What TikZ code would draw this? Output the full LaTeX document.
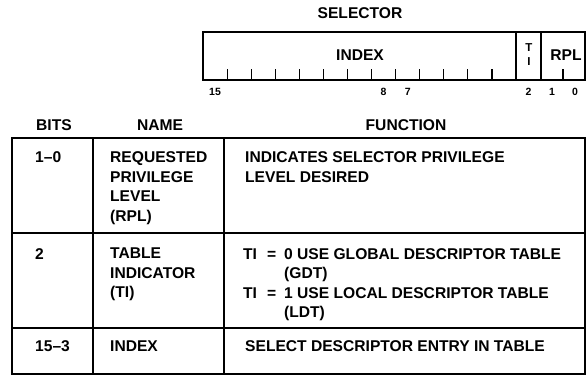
\documentclass[tikz,border=0pt]{standalone}
\usepackage{fontspec}
\setmainfont{Liberation Sans}
\begin{document}
\begin{tikzpicture}[x=1pt, y=-1pt,
  txt/.style={font=\fontsize{15.6}{19.5}\selectfont\bfseries, inner sep=0pt},
  bitnum/.style={font=\fontsize{10.5}{12}\selectfont\bfseries, inner sep=0pt},
  cell/.style={txt, anchor=north west, align=left},
  inline/.style={txt, anchor=base west},
  thickline/.style={line width=1.6pt},
  thinline/.style={line width=1.1pt}]
  \useasboundingbox (0,0) rectangle (587,381);
  % selector format
  \node [txt] (sel) at (360,13) {SELECTOR};
  \draw [thickline] (203,32) rectangle (585,80);
  \draw [thinline] (516,32) -- (516,80) (541,32) -- (541,80);
  \foreach \k in {1,...,12}
    \draw [thinline] ({203+24.08*\k},80) -- ({203+24.08*\k},69);
  \draw [thinline] (563,80) -- (563,69);
  \node [txt] (index) at (360,55) {INDEX};
  \node [font=\fontsize{11.5}{14}\selectfont\bfseries, inner sep=0pt, align=center] (ti) at (529,55) {T\\I};
  \node [txt] (rpl) at (566,55) {RPL};
  \node [bitnum] (b15) at (215,92) {15};
  \node [bitnum] (b8) at (383.6,92) {8};
  \node [bitnum] (b7) at (407.7,92) {7};
  \node [bitnum] (b2) at (528.5,92) {2};
  \node [bitnum] (b1) at (552,92) {1};
  \node [bitnum] (b0) at (575,92) {0};
  % table
  \node [txt] (hbits) at (54,125) {BITS};
  \node [txt] (hname) at (160,125) {NAME};
  \node [txt] (hfunc) at (406,125) {FUNCTION};
  \draw [thickline] (12,138) rectangle (585,374);
  \draw [thinline] (12,233) -- (585,233) (12,328) -- (585,328);
  \draw [thinline] (93,138) -- (93,374) (224,138) -- (224,374);
  % row 1
  \node [cell] (bits1) at (35,151.6) {1--0};
  \node [cell] (name1) at (110,151.6) {REQUESTED\\PRIVILEGE\\LEVEL\\(RPL)};
  \node [cell] (func1) at (245,151.6) {INDICATES SELECTOR PRIVILEGE\\LEVEL DESIRED};
  % row 2
  \node [cell] (bits2) at (35,248) {2};
  \node [cell] (name2) at (110,248) {TABLE\\INDICATOR\\(TI)};
  \node [inline] (ti0) at (243,259.2) {TI};
  \node [inline] (eq0) at (267,259.2) {=};
  \node [inline] (ti1) at (243,298.2) {TI};
  \node [inline] (eq1) at (267,298.2) {=};
  \node [cell] (func2) at (284,248)
    {0 USE GLOBAL DESCRIPTOR TABLE\\(GDT)\\1 USE LOCAL DESCRIPTOR TABLE\\(LDT)};
  % row 3
  \node [cell] (bits3) at (35,340.6) {15--3};
  \node [cell] (name3) at (110,340.6) {INDEX};
  \node [cell] (func3) at (245,340.6) {SELECT DESCRIPTOR ENTRY IN TABLE};
\end{tikzpicture}
\end{document}
